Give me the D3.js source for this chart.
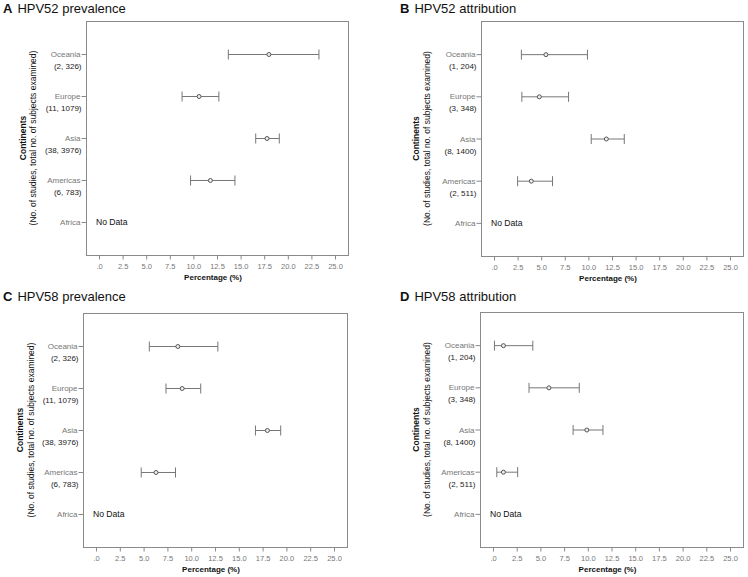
<!DOCTYPE html>
<html><head><meta charset="utf-8">
<script src="https://cdn.jsdelivr.net/npm/d3@7"></script>
<style>
body{margin:0;background:#fff;}
svg{display:block;font-family:"Liberation Sans",Arial,sans-serif;}
</style></head>
<body><svg id="chart" width="748" height="577"></svg>
<script>
// ---- data ----
const categories = ["Oceania", "Europe", "Asia", "Americas", "Africa"];
const countsPrevalence = ["(2, 326)", "(11, 1079)", "(38, 3976)", "(6, 783)", ""];
const countsAttribution = ["(1, 204)", "(3, 348)", "(8, 1400)", "(2, 511)", ""];
const xTicks = [0, 2.5, 5, 7.5, 10, 12.5, 15, 17.5, 20, 22.5, 25];
const panelLetters = ["A", "B", "C", "D"];
const panelTitles = ["HPV52 prevalence", "HPV52 attribution", "HPV58 prevalence", "HPV58 attribution"];
const noDataLabel = "No Data";
const xTitle = "Percentage (%)";
const yTitle1 = "Continents";
const yTitle2 = "(No. of studies, total no. of subjects examined)";

// estimate, lower CI, upper CI (Africa: no data)
const hpv52PrevMid = [18.0, 10.6, 17.8, 11.8, null];
const hpv52PrevLo  = [13.7, 8.8, 16.6, 9.7, null];
const hpv52PrevHi  = [23.3, 12.7, 19.1, 14.4, null];

const hpv52AttrMid = [5.5, 4.8, 11.9, 3.95, null];
const hpv52AttrLo  = [2.9, 2.95, 10.3, 2.5, null];
const hpv52AttrHi  = [9.9, 7.9, 13.8, 6.2, null];

const hpv58PrevMid = [8.6, 9.05, 18.0, 6.3, null];
const hpv58PrevLo  = [5.6, 7.35, 16.75, 4.75, null];
const hpv58PrevHi  = [12.8, 11.0, 19.4, 8.35, null];

const hpv58AttrMid = [1.1, 5.9, 9.9, 1.1, null];
const hpv58AttrLo  = [0.15, 3.8, 8.45, 0.4, null];
const hpv58AttrHi  = [4.2, 9.1, 11.6, 2.6, null];

const panelData = [
  {mid: hpv52PrevMid, lo: hpv52PrevLo, hi: hpv52PrevHi, counts: countsPrevalence},
  {mid: hpv52AttrMid, lo: hpv52AttrLo, hi: hpv52AttrHi, counts: countsAttribution},
  {mid: hpv58PrevMid, lo: hpv58PrevLo, hi: hpv58PrevHi, counts: countsPrevalence},
  {mid: hpv58AttrMid, lo: hpv58AttrLo, hi: hpv58AttrHi, counts: countsAttribution}
];

// ---- layout ----
const boxes = [
  {left: 86, top: 21, w: 262, h: 234, titleX: 3, titleY: 13, yt1: 22.7, yt2: 33.3},
  {left: 481, top: 21, w: 262, h: 235, titleX: 400, titleY: 13, yt1: 416.3, yt2: 427.3},
  {left: 83, top: 313, w: 264, h: 234, titleX: 3, titleY: 301, yt1: 20, yt2: 30.7},
  {left: 480, top: 312, w: 263, h: 235, titleX: 400, titleY: 301, yt1: 416.3, yt2: 427.3}
];

const svg = d3.select("#chart");
svg.append("rect").attr("width", 748).attr("height", 577).attr("fill", "#fff");

const fmt = v => { const s = d3.format(".1f")(v); return s.startsWith("0.") ? s.slice(1) : s; };
const pad = 13;

boxes.forEach((b, i) => {
  const d = panelData[i];
  const g = svg.append("g");
  const pxPerUnit = (b.w - 2 * pad) / 25;
  const x = d3.scaleLinear()
    .domain([-pad / pxPerUnit, 25 + pad / pxPerUnit])
    .range([b.left, b.left + b.w]);
  const y = d3.scalePoint().domain(categories).range([b.top, b.top + b.h]).padding(0.786);

  // title
  const t = g.append("text").attr("x", b.titleX).attr("y", b.titleY)
    .attr("font-size", 13).attr("fill", "#111");
  t.append("tspan").attr("font-weight", "bold").text(panelLetters[i]);
  t.append("tspan").attr("dx", 5).text(panelTitles[i]);

  // box
  g.append("rect").attr("x", b.left + 0.5).attr("y", b.top + 0.5)
    .attr("width", b.w).attr("height", b.h)
    .attr("fill", "none").attr("stroke", "#8a8a8a").attr("stroke-width", 1);

  // x axis
  const xa = g.append("g").attr("transform", `translate(0,${b.top + b.h + 0.5})`)
    .call(d3.axisBottom(x).tickValues(xTicks).tickSize(4).tickFormat(fmt));
  xa.select(".domain").remove();
  xa.selectAll(".tick line").attr("stroke", "#888");
  xa.selectAll(".tick text").attr("fill", "#777").attr("font-size", 7.5)
    .attr("font-family", "Liberation Sans, Arial, sans-serif").attr("dy", "0.9em");
  g.append("text").attr("x", b.left + b.w / 2 - 4).attr("y", b.top + b.h + 25)
    .attr("text-anchor", "middle").attr("font-size", 8).attr("font-weight", "bold")
    .attr("fill", "#111").text(xTitle);

  // y axis
  const ya = g.append("g").attr("transform", `translate(${b.left + 0.5},0)`)
    .call(d3.axisLeft(y).tickSize(5).tickPadding(1));
  ya.select(".domain").remove();
  ya.selectAll(".tick line").attr("stroke", "#888");
  ya.selectAll(".tick text").attr("fill", "#777").attr("font-size", 8)
    .attr("font-family", "Liberation Sans, Arial, sans-serif");
  g.selectAll(".cnt").data(categories).enter().append("text")
    .attr("x", b.left - 4.5).attr("y", c => y(c) + 12.5)
    .attr("dy", "0.32em").attr("text-anchor", "end")
    .attr("font-size", 8).attr("fill", "#222")
    .text((c, j) => d.counts[j]);

  // y titles
  const cy = b.top + b.h / 2;
  g.append("text").attr("transform", `translate(${b.yt1},${cy}) rotate(-90)`)
    .attr("text-anchor", "middle").attr("dy", "0.35em")
    .attr("font-size", 8.5).attr("font-weight", "bold").attr("fill", "#111").text(yTitle1);
  g.append("text").attr("transform", `translate(${b.yt2},${cy}) rotate(-90)`)
    .attr("text-anchor", "middle").attr("dy", "0.35em")
    .attr("font-size", 8.5).attr("fill", "#111").text(yTitle2);

  // error bars
  const rows = categories.map((c, j) => ({c, mid: d.mid[j], lo: d.lo[j], hi: d.hi[j]}));
  const valid = rows.filter(r => r.mid != null);
  const eb = g.selectAll(".eb").data(valid).enter().append("g");
  eb.append("line").attr("x1", r => x(r.lo)).attr("x2", r => x(r.hi))
    .attr("y1", r => y(r.c) + 0.5).attr("y2", r => y(r.c) + 0.5)
    .attr("stroke", "#777").attr("stroke-width", 1);
  eb.append("line").attr("x1", r => x(r.lo)).attr("x2", r => x(r.lo))
    .attr("y1", r => y(r.c) - 4.5).attr("y2", r => y(r.c) + 5.5)
    .attr("stroke", "#777").attr("stroke-width", 1);
  eb.append("line").attr("x1", r => x(r.hi)).attr("x2", r => x(r.hi))
    .attr("y1", r => y(r.c) - 4.5).attr("y2", r => y(r.c) + 5.5)
    .attr("stroke", "#777").attr("stroke-width", 1);
  eb.append("circle").attr("cx", r => x(r.mid)).attr("cy", r => y(r.c) + 0.5)
    .attr("r", 2).attr("fill", "#eee").attr("stroke", "#555").attr("stroke-width", 1);

  // no data
  rows.filter(r => r.mid == null).forEach(r => {
    g.append("text").attr("x", b.left + 10).attr("y", y(r.c)).attr("dy", "0.35em")
      .attr("font-size", 8.6).attr("fill", "#111").text(noDataLabel);
  });
});
</script></body></html>
